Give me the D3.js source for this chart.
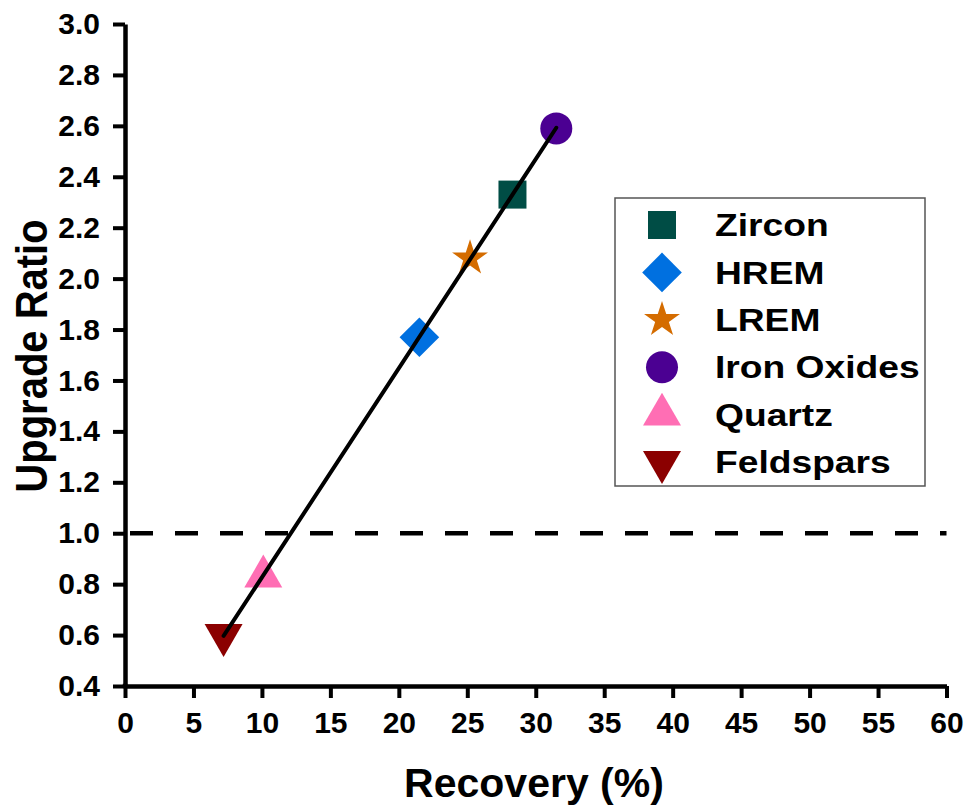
<!DOCTYPE html>
<html>
<head>
<meta charset="utf-8">
<script src="https://cdn.jsdelivr.net/npm/d3@7"></script>
<style>
  html, body { margin: 0; padding: 0; background: #fff; }
  svg text { font-family: "Liberation Sans", Arial, Helvetica, sans-serif; font-weight: bold; fill: #000; }
</style>
</head>
<body>
<svg id="chart" width="969" height="812"></svg>
<script>
// Minerals, their recovery (%) and upgrade ratio
const minerals = ["Zircon", "HREM", "LREM", "Iron Oxides", "Quartz", "Feldspars"];
const recovery = [28.3, 21.5, 25.2, 31.5, 10.1, 7.2];
const upgradeRatio = [2.33, 1.77, 2.08, 2.59, 0.83, 0.60];
const markerShapes = ["square", "diamond", "star", "circle", "triangle", "triangleDown"];
const markerColors = ["#004d45", "#0070e0", "#d46c00", "#4b0092", "#ff6eb4", "#8b0000"];

const xTicks = d3.range(0, 61, 5);
const yTicks = [0.4, 0.6, 0.8, 1.0, 1.2, 1.4, 1.6, 1.8, 2.0, 2.2, 2.4, 2.6, 2.8, 3.0];
const referenceRatio = 1.0;

const svg = d3.select("#chart");
const plot = { left: 125, right: 946.5, top: 24, bottom: 686 };

const x = d3.scaleLinear().domain([0, 60]).range([plot.left, plot.right]);
const y = d3.scaleLinear().domain([0.4, 3.0]).range([plot.bottom, plot.top]);

// Marker path for each shape, sized in pixels
function markerPath(shape) {
  switch (shape) {
    case "square": return d3.symbol(d3.symbolSquare, 28 * 28)();
    case "diamond": return d3.symbol(d3.symbolSquare, 28 * 28)();
    case "star": return d3.symbol(d3.symbolStar, 400)();
    case "circle": return d3.symbol(d3.symbolCircle, Math.PI * 16 * 16)();
    case "triangle":
    case "triangleDown": return d3.symbol(d3.symbolTriangle, 625)();
  }
}
function markerRotation(shape) {
  if (shape === "diamond") return 45;
  if (shape === "triangleDown") return 180;
  return 0;
}

// Axes
const yAxis = d3.axisLeft(y).tickValues(yTicks).tickFormat(d3.format(".1f"))
  .tickSize(12).tickSizeOuter(0).tickPadding(13);
const xAxis = d3.axisBottom(x).tickValues(xTicks).tickFormat(d3.format("d"))
  .tickSize(12).tickSizeOuter(0).tickPadding(14);

const gx = svg.append("g").attr("transform", `translate(0,${plot.bottom})`).call(xAxis);
const gy = svg.append("g").attr("transform", `translate(${plot.left},0)`).call(yAxis);
[gx, gy].forEach(g => {
  g.select(".domain").attr("stroke", "#000").attr("stroke-width", 4.5);
  g.selectAll(".tick line").attr("stroke", "#000").attr("stroke-width", 4);
  g.selectAll(".tick text").style("font-size", "30px").attr("fill", "#000");
});
// close the corner where the two axis lines meet
svg.append("line")
  .attr("x1", plot.left - 2.25).attr("x2", plot.left + 2.25)
  .attr("y1", plot.bottom).attr("y2", plot.bottom)
  .attr("stroke", "#000").attr("stroke-width", 4.5);

// Axis titles
svg.append("text")
  .attr("x", 534).attr("y", 797)
  .attr("text-anchor", "middle")
  .style("font-size", "41px")
  .text("Recovery (%)");
svg.append("text")
  .attr("transform", "translate(47,356) rotate(-90) scale(1,1.12)")
  .attr("text-anchor", "middle")
  .style("font-size", "40px")
  .text("Upgrade Ratio");

// Dashed reference line at ratio 1.0
svg.append("line")
  .attr("x1", x(0) + 5).attr("x2", plot.right)
  .attr("y1", y(referenceRatio)).attr("y2", y(referenceRatio))
  .attr("stroke", "#000").attr("stroke-width", 4.5)
  .attr("stroke-dasharray", "23 22");

// Data markers
const points = minerals.map((m, i) => ({
  name: m, x: recovery[i], y: upgradeRatio[i], shape: markerShapes[i], color: markerColors[i]
}));

svg.append("g").selectAll("path")
  .data(points)
  .join("path")
  .attr("d", d => markerPath(d.shape))
  .attr("transform", d => `translate(${x(d.x)},${y(d.y)}) rotate(${markerRotation(d.shape)})`)
  .attr("fill", d => d.color);

// Least-squares linear fit through the points, drawn across the data range
const mx = d3.mean(points, d => d.x), my = d3.mean(points, d => d.y);
const slope = d3.sum(points, d => (d.x - mx) * (d.y - my)) / d3.sum(points, d => (d.x - mx) ** 2);
const intercept = my - slope * mx;
const [xmin, xmax] = d3.extent(points, d => d.x);
svg.append("line")
  .attr("x1", x(xmin)).attr("y1", y(intercept + slope * xmin))
  .attr("x2", x(xmax)).attr("y2", y(intercept + slope * xmax))
  .attr("stroke", "#000").attr("stroke-width", 4).attr("stroke-linecap", "round");

// Legend
const legend = svg.append("g");
legend.append("rect")
  .attr("x", 615).attr("y", 198).attr("width", 310).attr("height", 288)
  .attr("fill", "#fff").attr("stroke", "#555").attr("stroke-width", 1.5);
const rowY = d3.scalePoint().domain(minerals).range([225, 462]);
const rows = legend.selectAll("g.row")
  .data(points)
  .join("g")
  .attr("class", "row")
  .attr("transform", d => `translate(0,${rowY(d.name)})`);
rows.append("path")
  .attr("d", d => markerPath(d.shape))
  .attr("transform", d => `translate(662,0) rotate(${markerRotation(d.shape)})`)
  .attr("fill", d => d.color);
rows.append("text")
  .attr("transform", "translate(715,0) scale(1.2,1)")
  .attr("dy", "0.36em")
  .style("font-size", "31px")
  .text(d => d.name);
</script>
</body>
</html>
